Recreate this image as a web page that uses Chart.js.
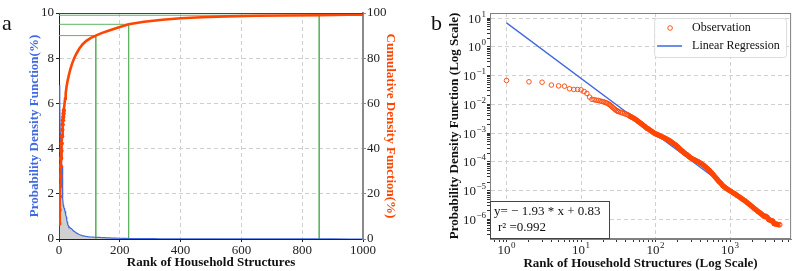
<!DOCTYPE html>
<html>
<head>
<meta charset="utf-8">
<script src="https://cdn.jsdelivr.net/npm/chart.js@4.4.1/dist/chart.umd.min.js"></script>
<style>
  html, body { margin: 0; padding: 0; background: #fff; }
  #wrap { position: relative; width: 796px; height: 271px; overflow: hidden; font-family: "Liberation Serif", serif; }
  #chartA { position: absolute; left: 0; top: 0; }
  #chartB { position: absolute; left: 400px; top: 0; }
  .tag { position: absolute; font-size: 22px; line-height: 1; color: #111; }
</style>
</head>
<body>
<div id="wrap">
  <canvas id="chartA" width="400" height="271"></canvas>
  <canvas id="chartB" width="396" height="271"></canvas>
  <div class="tag" style="left:2px; top:12px">a</div>
  <div class="tag" style="left:431px; top:12px">b</div>
</div>
<script>
const obsRank = [1, 2, 3, 4, 5, 6, 7, 8, 9, 10, 11, 12, 13, 14, 15, 16, 17, 18, 19, 20,
  21, 22, 23, 24, 25, 26, 27, 28, 29, 30, 31, 32, 34, 36, 38, 40, 42, 44, 46, 48,
  50, 53, 56, 59, 62, 65, 68, 72, 76, 80, 85, 90, 95, 100, 106, 112, 118, 125, 132, 140,
  148, 157, 166, 176, 186, 197, 208, 220, 233, 247, 262, 278, 295, 313, 332, 352, 373, 395, 420, 445,
  472, 500, 530, 560, 595, 630, 670, 710, 755, 800, 850, 900, 960, 1020, 1090, 1160, 1240, 1320, 1410, 1500,
  1600, 1710, 1830, 1950, 2080, 2220, 2370, 2520, 2680, 2850, 3000, 3150, 3300, 3450, 3600, 3750, 3900, 4100, 4300, 4500, 4650];
const obsPdf = [0.068, 0.061, 0.059, 0.047, 0.044, 0.043, 0.035, 0.033, 0.033, 0.032, 0.028, 0.024, 0.018, 0.015, 0.0145, 0.014, 0.0137, 0.0131, 0.0127, 0.0123,
  0.0118, 0.0113, 0.0106, 0.0099, 0.0091, 0.0083, 0.0076, 0.0070, 0.0065, 0.0061, 0.0058, 0.0056, 0.0053, 0.0050, 0.0048, 0.0046, 0.0044, 0.0041, 0.0038, 0.0036,
  0.0034, 0.0031, 0.0028, 0.0025, 0.0023, 0.0021, 0.0019, 0.0017, 0.0015, 0.0014, 0.00125, 0.00113, 0.00103, 0.00095, 0.00089, 0.00083, 0.00078, 0.00073, 0.00068, 0.00063,
  0.00058, 0.00053, 0.00048, 0.00043, 0.00039, 0.00034, 0.00030, 0.00026, 0.00023, 0.00020, 0.00018, 0.00016, 0.00014, 0.000128, 0.000118, 0.000110, 0.000102, 0.000093, 0.000084, 0.000075,
  0.000066, 0.000058, 0.000050, 0.000043, 0.000036, 0.000030, 0.000025, 0.000021, 0.000018, 0.000015, 0.0000132, 0.0000118, 0.0000106, 0.0000096, 0.0000086, 0.0000078, 0.0000069, 0.0000062, 0.0000055, 0.0000049,
  0.0000044, 0.0000038, 0.0000033, 0.0000029, 0.0000025, 0.0000022, 0.0000019, 0.0000017, 0.0000015, 0.0000013, 0.0000013, 0.0000012, 0.0000010, 0.00000095, 0.00000090, 0.00000088, 0.00000072, 0.00000070, 0.00000068, 0.00000066, 0.00000066];

// cumulative density (%) by rank
const cdfRank = [1, 2, 3, 4, 5, 6, 7, 8, 9, 10, 11, 12, 13, 14, 15, 16, 18, 20, 22, 25,
  28, 32, 37, 43, 50, 58, 67, 78, 90, 105, 121, 140, 160, 190, 229, 280, 340, 400, 470, 550,
  650, 750, 856, 950, 1000];
const cdfPct = [6.8, 12.9, 18.8, 23.5, 27.9, 32.2, 35.7, 39.0, 42.3, 45.5, 48.3, 50.7, 52.5, 54.0, 55.5, 56.9, 59.6, 62.1, 64.5, 67.5,
  69.8, 72.3, 75.0, 77.6, 80.0, 82.2, 84.3, 86.2, 87.7, 89.0, 90.0, 91.1, 92.0, 93.4, 95.0, 96.1, 97.0, 97.7, 98.1, 98.5,
  98.8, 98.9, 99.0, 99.2, 99.3];

// 90 / 95 / 99 % cut-offs and the ranks where they are reached
const cutPct = [90, 95, 99];
const cutRank = [121, 229, 856];

// fitted line end points and the fit text
const regRank = [1, 4600];
const regPdf = [6.8, 5.8e-7];
const fitText = ['y= \u2212 1.93 * x + 0.83', 'r\u00B2 =0.992'];

const serif = '"Liberation Serif", "Times New Roman", serif';
const blue = '#4169E1';
const red = '#FF4500';
const green = '#5fb35f';
Chart.defaults.font.family = serif;

const tickFont = { family: serif, size: 13 };
const titleFont = { family: serif, size: 13, weight: 'bold' };

const isDecade = v => Math.abs(Math.log10(v) - Math.round(Math.log10(v))) < 1e-6;

function logTicks(lo, hi) {
  const out = [];
  for (let e = Math.floor(Math.log10(lo)); e <= Math.ceil(Math.log10(hi)); e++) {
    for (let m = 1; m < 10; m++) {
      const v = m * Math.pow(10, e);
      if (v >= lo && v <= hi) out.push({ value: v });
    }
  }
  return out;
}

// "10" with a raised exponent, the way the log axes are labelled
function drawPow(ctx, e, x, y, align) {
  const base = '10';
  const ex = e < 0 ? '\u2212' + (-e) : String(e);
  ctx.font = '13px ' + serif;
  const wb = ctx.measureText(base).width;
  ctx.font = '9px ' + serif;
  const we = ctx.measureText(ex).width;
  const w = wb + we + 0.5;
  const x0 = align === 'center' ? x - w / 2 : x - w;
  ctx.textAlign = 'left';
  ctx.textBaseline = 'alphabetic';
  ctx.font = '13px ' + serif;
  ctx.fillText(base, x0, y);
  ctx.font = '9px ' + serif;
  ctx.fillText(ex, x0 + wb + 0.5, y - 6);
}

// ---- panel a ----
const pdfPoints = obsRank.map((r, i) => ({ x: r, y: obsPdf[i] * 100 }));
const cdfPoints = cdfRank.map((r, i) => ({ x: r, y: cdfPct[i] }));
const cutLines = cutPct.map((p, i) => ({
  label: 'cut' + p,
  data: [{ x: 0, y: p }, { x: cutRank[i], y: p }, { x: cutRank[i], y: 0 }],
  yAxisID: 'y1', borderColor: green, borderWidth: 1, pointRadius: 0, fill: false, order: 3
}));

const topFrame = {
  id: 'topFrame',
  afterDatasetsDraw(chart) {
    const { ctx, chartArea: a } = chart;
    ctx.save();
    ctx.strokeStyle = '#444';
    ctx.lineWidth = 1;
    ctx.beginPath();
    ctx.moveTo(a.left, a.top + 0.5);
    ctx.lineTo(a.right, a.top + 0.5);
    ctx.stroke();
    ctx.restore();
  }
};

new Chart(document.getElementById('chartA'), {
  type: 'line',
  data: {
    datasets: [
      {
        label: 'Cumulative Density Function', data: cdfPoints, yAxisID: 'y1',
        borderColor: red, backgroundColor: red, borderWidth: 2.6,
        pointRadius: c => (cdfRank[c.dataIndex] <= 16 ? 2.2 : 0), pointBorderWidth: 0,
        fill: false, order: 0
      },
      {
        label: 'Probability Density Function', data: pdfPoints, yAxisID: 'y',
        borderColor: blue, borderWidth: 1.2, pointRadius: 0,
        fill: 'origin', backgroundColor: 'rgba(170,170,170,0.55)', order: 1
      },
      ...cutLines
    ]
  },
  options: {
    responsive: false,
    animation: false,
    layout: { padding: { top: 13, left: 0, right: 0, bottom: 0 } },
    plugins: { legend: { display: false }, tooltip: { enabled: false } },
    scales: {
      x: {
        type: 'linear', min: 0, max: 1000,
        afterFit: s => { s.height = 32; },
        ticks: { stepSize: 200, font: tickFont, color: '#222', padding: 1, maxRotation: 0, callback: v => String(v) },
        grid: { color: '#cfcfcf', tickLength: 3, tickColor: '#222' },
        border: { color: '#222', width: 1, dash: [4, 3] },
        title: { display: true, text: 'Rank of Household Structures', color: '#111', font: titleFont, padding: { top: 0, bottom: 1 } }
      },
      y: {
        position: 'left', min: 0, max: 10,
        afterFit: s => { s.width = 59; },
        ticks: { stepSize: 2, font: tickFont, color: '#222', padding: 2 },
        grid: { color: '#cfcfcf', tickLength: 3, tickColor: '#222' },
        border: { color: '#222', width: 1, dash: [4, 3] },
        title: { display: true, text: 'Probability Density Function(%)', color: blue, font: titleFont, padding: { top: 27, bottom: 0 } }
      },
      y1: {
        position: 'right', min: 0, max: 100,
        afterFit: s => { s.width = 37; },
        ticks: { stepSize: 20, font: tickFont, color: '#222', padding: 1 },
        grid: { drawOnChartArea: false, tickLength: 3, tickColor: '#888' },
        border: { color: '#8a8a8a', width: 2 },
        title: { display: true, text: 'Cumulative Density Function(%)', color: red, font: titleFont, padding: { top: 2, bottom: 0 } }
      }
    }
  },
  plugins: [topFrame]
});

// ---- panel b ----
const obsPoints = obsRank.map((r, i) => ({ x: r, y: obsPdf[i] }));
const regPoints = regRank.map((r, i) => ({ x: r, y: regPdf[i] }));
const xMinB = 0.647, xMaxB = 6600, yMinB = 2.1e-7, yMaxB = 15;

const boxes = {
  id: 'boxes',
  afterDraw(chart) {
    const { ctx, chartArea: a, scales } = chart;
    const ds = chart.data.datasets;
    ctx.save();
    ctx.strokeStyle = '#808080';
    ctx.lineWidth = 1;
    ctx.strokeRect(a.left + 0.5, a.top + 0.5, a.right - a.left - 1, a.bottom - a.top - 1);

    // decade labels on both log axes
    ctx.fillStyle = '#222';
    scales.x.ticks.forEach(t => {
      if (isDecade(t.value)) drawPow(ctx, Math.round(Math.log10(t.value)), scales.x.getPixelForValue(t.value), a.bottom + 15, 'center');
    });
    scales.y.ticks.forEach(t => {
      if (isDecade(t.value)) drawPow(ctx, Math.round(Math.log10(t.value)), a.left - 4, scales.y.getPixelForValue(t.value) + 4.5, 'right');
    });

    // fit text box, bottom left
    ctx.fillStyle = '#fff';
    ctx.fillRect(a.left + 1, a.bottom - 38, 118, 37);
    ctx.strokeStyle = '#444';
    ctx.strokeRect(a.left + 0.5, a.bottom - 37.5, 119, 37);
    ctx.fillStyle = '#111';
    ctx.font = '13px ' + serif;
    ctx.textAlign = 'left';
    ctx.textBaseline = 'middle';
    ctx.fillText(fitText[0], a.left + 4, a.bottom - 27);
    ctx.fillText(fitText[1], a.left + 8, a.bottom - 11);

    // legend, top right
    const lx = a.right - 137, ly = a.top + 5, lw = 132, lh = 39;
    ctx.fillStyle = 'rgba(255,255,255,0.9)';
    ctx.strokeStyle = '#dcdcdc';
    ctx.beginPath();
    ctx.roundRect(lx + 0.5, ly + 0.5, lw, lh, 3);
    ctx.fill();
    ctx.stroke();
    ctx.font = '12px ' + serif;
    ctx.fillStyle = '#111';
    ctx.strokeStyle = red;
    ctx.lineWidth = 0.9;
    ctx.beginPath();
    ctx.arc(lx + 16, ly + 10, 2.3, 0, Math.PI * 2);
    ctx.stroke();
    ctx.fillText(ds[0].label, lx + 38, ly + 10);
    ctx.strokeStyle = blue;
    ctx.lineWidth = 1.5;
    ctx.beginPath();
    ctx.moveTo(lx + 3, ly + 28);
    ctx.lineTo(lx + 28, ly + 28);
    ctx.stroke();
    ctx.fillText(ds[2].label, lx + 38, ly + 28);
    ctx.restore();
  }
};

const logAxis = (lo, hi) => ({
  type: 'logarithmic', min: lo, max: hi,
  afterBuildTicks: s => { s.ticks = logTicks(lo, hi); },
  ticks: { autoSkip: false, maxRotation: 0, font: tickFont, color: '#222', callback: () => '' },
  grid: {
    color: c => (c.tick && isDecade(c.tick.value) ? '#d0d0d0' : 'rgba(0,0,0,0)'),
    tickLength: 3, tickColor: '#333'
  },
  border: { color: '#808080', width: 1, dash: [4, 3] }
});

const xB = logAxis(xMinB, xMaxB);
xB.afterFit = s => { s.height = 32; };
xB.title = { display: true, text: 'Rank of Household Structures (Log Scale)', color: '#111', font: titleFont, padding: { top: 0, bottom: 0 } };

const yB = logAxis(yMinB, yMaxB);
yB.afterFit = s => { s.width = 90; };
yB.title = { display: true, text: 'Probability Density Function (Log Scale)', color: '#111', font: titleFont, padding: { top: 47, bottom: 0 } };

new Chart(document.getElementById('chartB'), {
  type: 'scatter',
  data: {
    datasets: [
      {
        label: 'Observation', data: obsPoints,
        borderColor: red, backgroundColor: 'rgba(0,0,0,0)',
        pointRadius: 2.3, pointBorderWidth: 0.9, order: 0
      },
      {
        label: 'Observation band', data: obsPoints.filter(p => p.x >= 44),
        showLine: true, borderColor: red, borderWidth: 5, pointRadius: 0, order: 1
      },
      {
        label: 'Linear Regression', data: regPoints,
        showLine: true, borderColor: blue, borderWidth: 1.3, pointRadius: 0, order: 2
      }
    ]
  },
  options: {
    responsive: false,
    animation: false,
    layout: { padding: { top: 13, left: 0, right: 3, bottom: 0 } },
    plugins: { legend: { display: false }, tooltip: { enabled: false } },
    scales: { x: xB, y: yB }
  },
  plugins: [boxes]
});
</script>
</body>
</html>
